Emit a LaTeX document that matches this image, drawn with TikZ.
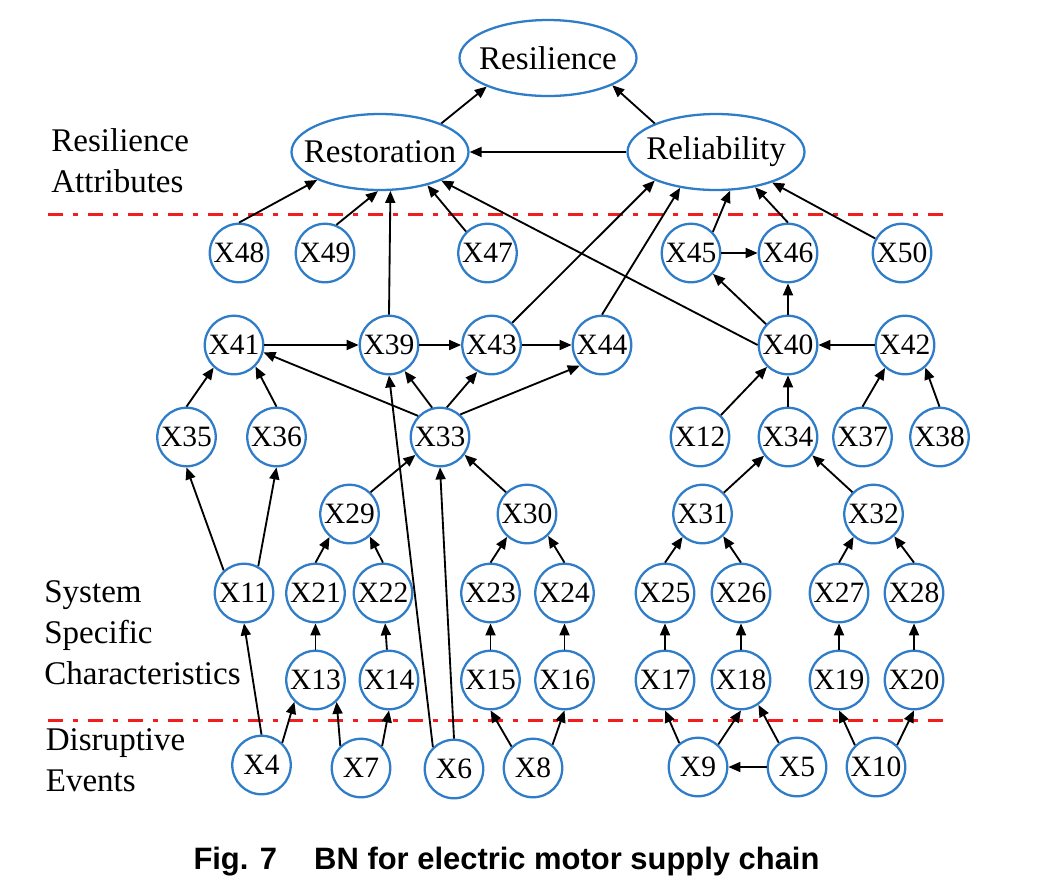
\documentclass[tikz,border=0pt]{standalone}
\usepackage{fontspec}
\setmainfont{Liberation Serif}
\newfontfamily\capfont{Liberation Sans}
\usetikzlibrary{arrows.meta, positioning, shapes.geometric}
\definecolor{bnblue}{HTML}{2F7DC8}
\definecolor{bnred}{HTML}{F21D1D}

\begin{document}
\begin{tikzpicture}[
  varnode/.style={circle, draw=bnblue, line width=1.3pt, fill=white, minimum size=1.17cm, inner sep=0pt, font=\fontsize{16.8}{19}\selectfont},
  attrnode/.style={ellipse, draw=bnblue, line width=1.3pt, fill=white, minimum width=3.54cm, minimum height=1.52cm, inner xsep=-0.32cm, inner ysep=0pt, font=\fontsize{18.8}{22}\selectfont},
  zonelabel/.style={anchor=west, align=left, inner sep=0pt, font=\fontsize{18.8}{23.2}\selectfont},
  zoneline/.style={bnred, line width=1.7pt, dash pattern=on 0.3cm off 0.2cm on 0.1cm off 0.2cm},
  link/.style={-{Triangle[length=0.24cm, width=0.2cm]}, line width=1.05pt, black},
]
\useasboundingbox (0,0) rectangle (21.04,-17.74);

% zone separators and labels
\draw[zoneline] (0.95,-4.28) -- (18.95,-4.28);
\draw[zoneline] (0.95,-14.40) -- (18.95,-14.40);
\node[zonelabel] (lblattr) at (1.02,-3.21) {Resilience\\Attributes};
\node[zonelabel] (lblsys) at (0.88,-12.65) {System\\Specific\\Characteristics};
\node[zonelabel] (lbldis) at (0.91,-15.20) {Disruptive\\Events};

% resilience attributes
\node[attrnode] (res) at (10.96,-1.16) {Resilience};
\node[attrnode] (rest) at (7.60,-3.04) {Restoration};
\node[attrnode] (rel) at (14.32,-3.04) {Reliability};

% variables
\node[varnode] (x48) at (4.78,-5.06) {X48};
\node[varnode] (x49) at (6.50,-5.06) {X49};
\node[varnode] (x47) at (9.75,-5.06) {X47};
\node[varnode] (x45) at (13.82,-5.06) {X45};
\node[varnode] (x46) at (15.76,-5.06) {X46};
\node[varnode] (x50) at (18.04,-5.06) {X50};

\node[varnode] (x41) at (4.68,-6.90) {X41};
\node[varnode] (x39) at (7.78,-6.90) {X39};
\node[varnode] (x43) at (9.83,-6.90) {X43};
\node[varnode] (x44) at (12.04,-6.90) {X44};
\node[varnode] (x40) at (15.76,-6.90) {X40};
\node[varnode] (x42) at (18.10,-6.90) {X42};

\node[varnode] (x35) at (3.73,-8.74) {X35};
\node[varnode] (x36) at (5.53,-8.74) {X36};
\node[varnode] (x33) at (8.80,-8.74) {X33};
\node[varnode] (x12) at (14.00,-8.74) {X12};
\node[varnode] (x34) at (15.76,-8.74) {X34};
\node[varnode] (x37) at (17.25,-8.74) {X37};
\node[varnode] (x38) at (18.79,-8.74) {X38};

\node[varnode] (x29) at (6.99,-10.28) {X29};
\node[varnode] (x30) at (10.54,-10.28) {X30};
\node[varnode] (x31) at (14.05,-10.28) {X31};
\node[varnode] (x32) at (17.47,-10.28) {X32};

\node[varnode] (x11) at (4.88,-11.86) {X11};
\node[varnode] (x21) at (6.31,-11.86) {X21};
\node[varnode] (x22) at (7.66,-11.86) {X22};
\node[varnode] (x23) at (9.81,-11.86) {X23};
\node[varnode] (x24) at (11.29,-11.86) {X24};
\node[varnode] (x25) at (13.30,-11.86) {X25};
\node[varnode] (x26) at (14.82,-11.86) {X26};
\node[varnode] (x27) at (16.78,-11.86) {X27};
\node[varnode] (x28) at (18.28,-11.86) {X28};

\node[varnode] (x13) at (6.31,-13.60) {X13};
\node[varnode] (x14) at (7.78,-13.60) {X14};
\node[varnode] (x15) at (9.81,-13.60) {X15};
\node[varnode] (x16) at (11.29,-13.60) {X16};
\node[varnode] (x17) at (13.30,-13.60) {X17};
\node[varnode] (x18) at (14.82,-13.60) {X18};
\node[varnode] (x19) at (16.78,-13.60) {X19};
\node[varnode] (x20) at (18.28,-13.60) {X20};

\node[varnode] (x4) at (5.23,-15.30) {X4};
\node[varnode] (x7) at (7.22,-15.36) {X7};
\node[varnode] (x6) at (9.08,-15.38) {X6};
\node[varnode] (x8) at (10.66,-15.36) {X8};
\node[varnode] (x9) at (13.96,-15.34) {X9};
\node[varnode] (x5) at (15.94,-15.34) {X5};
\node[varnode] (x10) at (17.52,-15.34) {X10};

% top level
\draw[link] (rest.25) -- (res.205);
\draw[link] (rel.155) -- (res.-23);
\draw[link] (rel.west) -- (rest.east);
\draw[link] (x48.north) -- (rest.204);
\draw[link] (x49.68) -- (rest.267);
\draw[link] (x39.north) -- (rest.285);
\draw[link] (x47.135) -- (rest.-35);
\draw[link] (x40.west) -- (rest.-25);
\draw[link] (x43.47) -- (rel.205);
\draw[link] (x44.north) -- (rel.225);
\draw[link] (x45.44) -- (rel.290);
\draw[link] (x46.north) -- (rel.-42);
\draw[link] (x50) -- (rel);

% reliability side
\draw[link] (x45) -- (x46);
\draw[link] (x40) -- (x45);
\draw[link] (x40) -- (x46);
\draw[link] (x42) -- (x40);
\draw[link] (x12) -- (x40);
\draw[link] (x34) -- (x40);
\draw[link] (x37.north) -- (x42.229);
\draw[link] (x38.north) -- (x42.-48);

% restoration side
\draw[link] (x41) -- (x39);
\draw[link] (x39) -- (x43);
\draw[link] (x43) -- (x44);
\draw[link] (x33.136) -- (x41.-14);
\draw[link] (x33.105) -- (x39.-59);
\draw[link] (x33.77) -- (x43.242);
\draw[link] (x33.48) -- (x44.223);
\draw[link] (x35.north) -- (x41.228);
\draw[link] (x36.north) -- (x41.-45);
\draw[link] (x11.132) -- (x35.south);
\draw[link] (x11.62) -- (x36.south);
\draw[link] (x6.134) -- (x39.south);
\draw[link] (x6.north) -- (x33.south);
\draw[link] (x29.46) -- (x33.216);
\draw[link] (x30.134) -- (x33.-36);
\draw[link] (x21.north) -- (x29.229);
\draw[link] (x22.north) -- (x29.-48);
\draw[link] (x23.north) -- (x30.229);
\draw[link] (x24.north) -- (x30.-46);
\draw[link] (x13) -- (x21);
\draw[link] (x14) -- (x22);
\draw[link] (x15) -- (x23);
\draw[link] (x16) -- (x24);
\draw[link] (x4.north) -- (x11.south);
\draw[link] (x4.47) -- (x13.226);
\draw[link] (x7.133) -- (x13.-46);
\draw[link] (x7.46) -- (x14.south);
\draw[link] (x8.135) -- (x15.south);
\draw[link] (x8.50) -- (x16.south);

% reliability chain
\draw[link] (x31.45) -- (x34.218);
\draw[link] (x32.134) -- (x34.-37);
\draw[link] (x25.north) -- (x31.229);
\draw[link] (x26.north) -- (x31.-47);
\draw[link] (x27.north) -- (x32.229);
\draw[link] (x28.north) -- (x32.-47);
\draw[link] (x17) -- (x25);
\draw[link] (x18) -- (x26);
\draw[link] (x19) -- (x27);
\draw[link] (x20) -- (x28);
\draw[link] (x9.128) -- (x17.south);
\draw[link] (x9.48) -- (x18.south);
\draw[link] (x5.127) -- (x18.-55);
\draw[link] (x5) -- (x9);
\draw[link] (x10.134) -- (x19.south);
\draw[link] (x10.46) -- (x20.south);

% caption
\node[font=\capfont\bfseries\fontsize{17.6}{20}\selectfont] (cap) at (10.13,-17.24) {Fig. 7\hspace{1.2em}BN for electric motor supply chain};
\end{tikzpicture}
\end{document}
